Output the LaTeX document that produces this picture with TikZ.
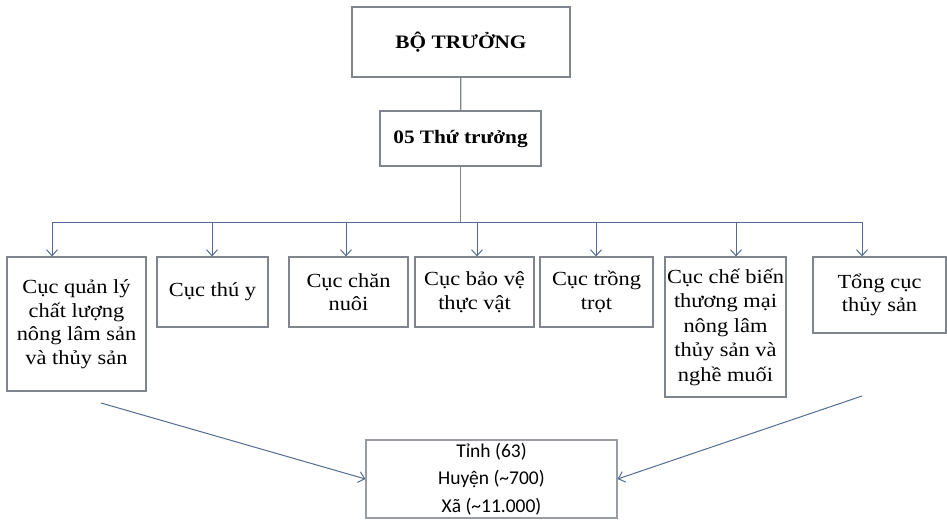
\documentclass[tikz,border=0pt]{standalone}
\usepackage{fontspec}
\setmainfont[FakeStretch=1.12]{Liberation Serif}
\newfontfamily\calfont{Carlito}
\usetikzlibrary{arrows.meta}
\definecolor{boxline}{RGB}{128,132,140}
\definecolor{linkline}{RGB}{84,108,148}
\tikzset{
    box/.style={draw=boxline, line width=1.2pt, fill=white, align=center,
        inner sep=2pt, font=\fontsize{20}{23.5}\selectfont},
    stem/.style={draw=boxline, line width=1.2pt},
    link/.style={draw=linkline, line width=1pt},
    linkarrow/.style={link, -{Straight Barb[length=6pt,width=11pt]}}
}
\begin{document}
\begin{tikzpicture}[x=1pt,y=1pt]
    \useasboundingbox (0,0) rectangle (947,-519);
    % top of the tree
    \node[box, font=\fontsize{19}{23.5}\selectfont\bfseries, minimum width=218, minimum height=70]
        (minister) at (461,-42) {BỘ TRƯỞNG};
    \node[box, font=\fontsize{19}{23.5}\selectfont\bfseries, minimum width=161, minimum height=55]
        (deputy) at (460.5,-138.5) {05 Thứ trưởng};
    % departments
    \node[box, minimum width=139, minimum height=134] (c1) at (76.5,-324)
        {Cục quản lý\\chất lượng\\nông lâm sản\\và thủy sản};
    \node[box, minimum width=111, minimum height=70] (c2) at (212.5,-292) {Cục thú y};
    \node[box, minimum width=119, minimum height=70] (c3) at (348.5,-292) {Cục chăn\\nuôi};
    \node[box, minimum width=119, minimum height=70] (c4) at (474.5,-292) {Cục bảo vệ\\thực vật};
    \node[box, minimum width=113, minimum height=70] (c5) at (596.5,-292) {Cục trồng\\trọt};
    \node[box, minimum width=119, minimum height=140, font=\fontsize{20}{24.5}\selectfont] (c6) at (725.5,-327)
        {Cục chế biến\\thương mại\\nông lâm\\thủy sản và\\nghề muối};
    \node[box, minimum width=133, minimum height=76] (c7) at (879.5,-295) {Tổng cục\\thủy sản};
    % local level
    \node[box, draw=boxline!80, font=\calfont\fontsize{19.5}{27.5}\selectfont, minimum width=251, minimum height=78]
        (local) at (491.5,-479) {Tỉnh (63)\\Huyện (\textasciitilde700)\\Xã (\textasciitilde11.000)};
    % bus
    \foreach \i/\x in {1/52, 2/212, 3/346, 4/477, 5/596, 6/736, 7/862}
        \coordinate (j\i) at (\x,-222);
    \draw[stem] (minister) -- (deputy);
    \draw[stem] (deputy.south) -- (deputy.south |- j1);
    \draw[link] (j1) -- (j7);
    \foreach \i in {1,...,7}
        \draw[linkarrow] (j\i) -- (j\i |- c\i.north);
    % converging arrows
    \coordinate (l0) at (101,-403);
    \coordinate (r0) at (862,-396);
    \draw[linkarrow] (l0) -- (local.west);
    \draw[linkarrow] (r0) -- (local.east);
\end{tikzpicture}
\end{document}
